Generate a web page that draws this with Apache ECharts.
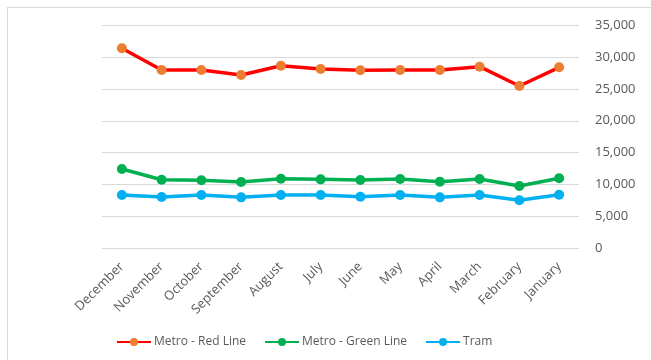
<!DOCTYPE html>
<html>
<head>
<meta charset="utf-8">
<script src="https://cdn.jsdelivr.net/npm/echarts@6/dist/echarts.min.js"></script>
<style>
  html, body { margin: 0; padding: 0; background: #fff; overflow: hidden; }
  #frame { position: absolute; left: 7px; top: 7px; width: 700px; height: 400px;
           border-left: 1px solid #d9d9d9; border-top: 1px solid #d9d9d9; }
  #chart { position: absolute; left: 0; top: 0; width: 651px; height: 360px; }
</style>
</head>
<body>
<div id="frame"></div>
<div id="chart"></div>
<script>
// Monthly ridership by line
const months = ['December', 'November', 'October', 'September', 'August', 'July',
                'June', 'May', 'April', 'March', 'February', 'January'];
const metroRed   = [31350, 27950, 27950, 27170, 28630, 28110, 27900, 27950, 27950, 28470, 25450, 28370];
const metroGreen = [12450, 10770, 10680, 10410, 10930, 10830, 10730, 10880, 10460, 10880, 9790, 10990];
const tram       = [8380, 8060, 8380, 8010, 8380, 8380, 8110, 8380, 8010, 8380, 7550, 8430];

const textColor = '#595959';
const fontFamily = 'Open Sans, Noto Sans, sans-serif';

function lineSeries(name, data, lineColor, dotColor) {
  return {
    name, type: 'line', data,
    symbol: 'circle', symbolSize: 10,
    lineStyle: { color: lineColor, width: 3.5 },
    itemStyle: { color: dotColor },
    emphasis: { disabled: true },
    z: 3
  };
}

const chart = echarts.init(document.getElementById('chart'), null, { renderer: 'canvas' });
chart.setOption({
  animation: false,
  grid: { left: 102, right: 72, top: 25, bottom: 111.5 },
  xAxis: {
    type: 'category', data: months, boundaryGap: true,
    axisLine: { show: false }, axisTick: { show: false },
    axisLabel: { rotate: 45, color: textColor, fontSize: 13, fontFamily, margin: 16, interval: 0 }
  },
  yAxis: {
    type: 'value', position: 'right', min: 0, max: 35000, interval: 5000,
    axisLine: { show: false }, axisTick: { show: false },
    splitLine: { lineStyle: { color: '#d9d9d9', width: 1 } },
    axisLabel: {
      color: textColor, fontSize: 13, fontFamily, margin: 16, align: 'left',
      formatter: v => v.toLocaleString('en-US')
    }
  },
  legend: {
    bottom: 7, left: 111, itemWidth: 34, itemHeight: 10, itemGap: 18,
    textStyle: { color: textColor, fontSize: 12, fontFamily, padding: [0, 0, 0, -2] },
    data: ['Metro - Red Line', 'Metro - Green Line', 'Tram']
  },
  series: [
    lineSeries('Metro - Red Line', metroRed, '#ff0000', '#ed7d31'),
    lineSeries('Metro - Green Line', metroGreen, '#00b050', '#00b050'),
    lineSeries('Tram', tram, '#00b0f0', '#00b0f0')
  ]
});
</script>
</body>
</html>
